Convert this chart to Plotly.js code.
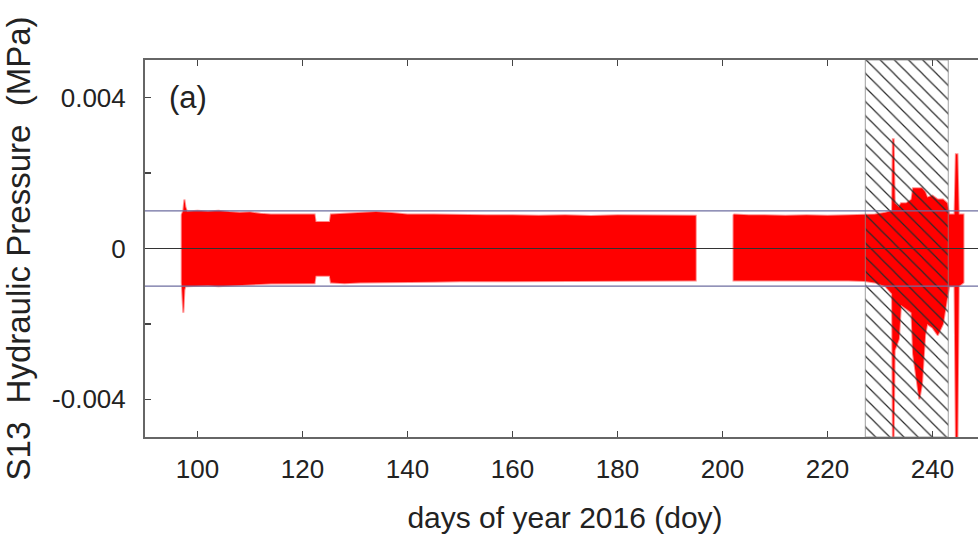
<!DOCTYPE html>
<html>
<head>
<meta charset="utf-8">
<script src="https://cdn.plot.ly/plotly-3.0.1.min.js"></script>
<style>
html,body{margin:0;padding:0;overflow:hidden;background:#fff;}
#chart{width:990px;height:547px;}
</style>
</head>
<body>
<div id="chart"></div>
<script>
// Envelope of the S13 hydraulic pressure record (MPa) vs day of year 2016; null = data gap
var doy = [97.0, 97.3, 97.5, 97.7, 98, 100, 102, 104, 106, 108, 110, 112, 114, 116, 118, 120, 122.3, 122.5, 125.2, 125.4, 128, 131, 134, 137, 140, 145, 150, 155, 160, 165, 170, 175, 180, 185, 190, 194.9,
  null,
  202.1, 205, 208, 212, 216, 220, 224, 227, 229, 231, 232.3, 232.45, 232.6, 232.8, 233.6, 234.0, 235, 236.0, 236.3, 237, 237.5, 238, 238.6, 239, 240, 241, 242, 242.8, 243.2, 244.2, 244.45, 244.75, 245.0, 245.9];
var upper = [0.0009, 0.0010, 0.0013, 0.0011, 0.00098, 0.001, 0.00098, 0.001, 0.00097, 0.00095, 0.00096, 0.00092, 0.0009, 0.0009, 0.00092, 0.0009, 0.0009, 0.0007, 0.0007, 0.0009, 0.00092, 0.00095, 0.00097, 0.00094, 0.0009, 0.0009, 0.00088, 0.00088, 0.00088, 0.00087, 0.00088, 0.00086, 0.00088, 0.00088, 0.00087, 0.00087,
  null,
  0.0009, 0.00088, 0.00088, 0.00087, 0.00088, 0.00087, 0.00088, 0.00088, 0.0009, 0.00095, 0.001, 0.0029, 0.0029, 0.0012, 0.0011, 0.0012, 0.0012, 0.0013, 0.0016, 0.0016, 0.0016, 0.0016, 0.0015, 0.00135, 0.0014, 0.0013, 0.0013, 0.0012, 0.0009, 0.0009, 0.0025, 0.0025, 0.0009, 0.0009];
var lower = [-0.0009, -0.0017, -0.0011, -0.001, -0.001, -0.001, -0.00098, -0.001, -0.00097, -0.00096, -0.00095, -0.00094, -0.00093, -0.00092, -0.00093, -0.00092, -0.00092, -0.00072, -0.00072, -0.0009, -0.00092, -0.0009, -0.0009, -0.0009, -0.00088, -0.00088, -0.00087, -0.00087, -0.00086, -0.00087, -0.00086, -0.00085, -0.00086, -0.00086, -0.00085, -0.00085,
  null,
  -0.00085, -0.00085, -0.00084, -0.00085, -0.00084, -0.00085, -0.00085, -0.00086, -0.0009, -0.001, -0.0012, -0.005, -0.005, -0.0027, -0.0024, -0.0015, -0.0016, -0.0017, -0.0028, -0.0035, -0.0040, -0.0036, -0.0023, -0.002, -0.0021, -0.0023, -0.002, -0.0013, -0.001, -0.001, -0.005, -0.005, -0.001, -0.0009];
// Hatched interval (doy)
var hatchStart = 227.2;
var hatchEnd = 243.0;
// Reference levels (MPa)
var refLevels = [-0.001, 0.001];
var xTicks = [100, 120, 140, 160, 180, 200, 220, 240];
var yTicks = [-0.004, -0.002, 0, 0.002, 0.004];
var yTickText = ['-0.004', '', '0', '', '0.004'];

// build closed polygons for every contiguous segment
var px = [], py = [];
var seg = [];
function flush() {
  if (!seg.length) return;
  var i;
  for (i = 0; i < seg.length; i++) { px.push(doy[seg[i]]); py.push(upper[seg[i]]); }
  for (i = seg.length - 1; i >= 0; i--) { px.push(doy[seg[i]]); py.push(lower[seg[i]]); }
  px.push(doy[seg[0]]); py.push(upper[seg[0]]);
  px.push(null); py.push(null);
  seg = [];
}
for (var k = 0; k < doy.length; k++) {
  if (doy[k] === null) flush(); else seg.push(k);
}
flush();

var FONT = 'Liberation Sans, Arial, sans-serif';
var traces = [
  {
    x: px, y: py, type: 'scatter', mode: 'lines', fill: 'toself',
    fillcolor: '#ff0000', line: {color: 'rgba(255,0,0,0.45)', width: 2},
    hoverinfo: 'skip', showlegend: false
  },
  {
    x: [hatchStart, hatchEnd, hatchEnd, hatchStart, hatchStart],
    y: [-0.005, -0.005, 0.005, 0.005, -0.005],
    type: 'scatter', mode: 'lines', fill: 'toself',
    fillcolor: 'rgba(0,0,0,0)',
    fillpattern: {shape: '\\', fgcolor: '#2a2a2a', bgcolor: 'rgba(0,0,0,0)', size: 10, solidity: 0.12},
    line: {color: '#888', width: 0.8},
    hoverinfo: 'skip', showlegend: false
  }
];

var shapes = [];
refLevels.forEach(function (v) {
  shapes.push({type: 'line', xref: 'paper', x0: 0, x1: 1, yref: 'y', y0: v, y1: v,
    line: {color: '#6e6ea0', width: 1.2}, layer: 'above'});
});
shapes.push({type: 'line', xref: 'paper', x0: 0, x1: 1, yref: 'y', y0: 0, y1: 0,
  line: {color: '#333', width: 1.2}, layer: 'above'});

var layout = {
  width: 990, height: 547,
  margin: {l: 145, r: 5, t: 60, b: 110},
  paper_bgcolor: '#fff', plot_bgcolor: '#fff',
  font: {family: FONT, color: '#222'},
  xaxis: {
    range: [90, 250], tickvals: xTicks, ticks: 'inside', ticklen: 6, tickwidth: 1.5, tickcolor: '#444',
    showline: true, linecolor: '#666', linewidth: 2, mirror: 'ticks',
    showgrid: false, zeroline: false, ticklabelstandoff: 8,
    tickfont: {size: 26, family: FONT, color: '#222'},
    title: {text: 'days of year 2016 (doy)', font: {size: 30, family: FONT, color: '#222'}, standoff: 24}
  },
  yaxis: {
    range: [-0.005, 0.005], tickvals: yTicks, ticktext: yTickText, ticks: 'inside', ticklen: 6, tickwidth: 1.5, tickcolor: '#444',
    showline: true, linecolor: '#666', linewidth: 2, mirror: 'ticks',
    showgrid: false, zeroline: false, ticklabelstandoff: 12,
    tickfont: {size: 26, family: FONT, color: '#222'},
    title: {text: 'S13  Hydraulic Pressure  (MPa)', font: {size: 33, family: FONT, color: '#222'}, standoff: 20}
  },
  shapes: shapes,
  annotations: [{
    text: '(a)', xref: 'paper', x: 0.026, xanchor: 'left', yref: 'y', y: 0.0040, yanchor: 'middle',
    showarrow: false, font: {size: 31, family: FONT, color: '#222'}
  }],
  showlegend: false
};

Plotly.newPlot('chart', traces, layout, {displayModeBar: false, staticPlot: true});
</script>
</body>
</html>
